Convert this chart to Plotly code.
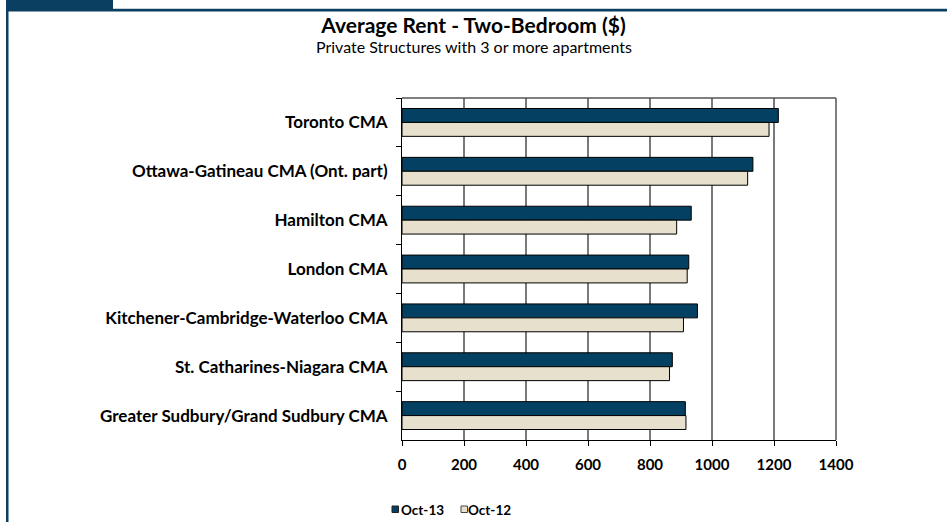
import plotly.graph_objects as go

categories = [
    "Toronto CMA",
    "Ottawa-Gatineau CMA (Ont. part)",
    "Hamilton CMA",
    "London CMA",
    "Kitchener-Cambridge-Waterloo CMA",
    "St. Catharines-Niagara CMA",
    "Greater Sudbury/Grand Sudbury CMA",
]
oct13 = [1214, 1132, 933, 925, 953, 872, 914]
oct12 = [1184, 1115, 886, 920, 908, 863, 916]
series_names = ["Oct-13", "Oct-12"]
x_ticks = [0, 200, 400, 600, 800, 1000, 1200, 1400]

DARK = "#044062"
BEIGE = "#E6E0CC"
FONT = "Lato"

W, H = 947, 522
L, R, T, B = 402, 111, 98, 82
PW, PH = W - L - R, H - T - B

def px(x):
    return (x - L) / PW

def py(y):
    return (H - B - y) / PH

fig = go.Figure()
fig.add_trace(go.Bar(y=categories, x=oct13, name=series_names[0], orientation="h",
                     marker=dict(color=DARK, line=dict(color="#000000", width=1)),
                     showlegend=False))
fig.add_trace(go.Bar(y=categories, x=oct12, name=series_names[1], orientation="h",
                     marker=dict(color=BEIGE, line=dict(color="#000000", width=1)),
                     showlegend=False))

shapes = [
    # top-left dark band
    dict(type="rect", xref="paper", yref="paper", x0=px(6), x1=px(113), y0=py(0), y1=py(10),
         fillcolor="#0B3F62", line=dict(width=0), layer="above"),
    # top horizontal rule
    dict(type="rect", xref="paper", yref="paper", x0=px(6), x1=px(947), y0=py(9), y1=py(11.5),
         fillcolor="#0B3F62", line=dict(width=0), layer="above"),
    dict(type="rect", xref="paper", yref="paper", x0=px(113), x1=px(947), y0=py(8), y1=py(9),
         fillcolor="#C9D3DB", line=dict(width=0), layer="above"),
    # left vertical rule
    dict(type="rect", xref="paper", yref="paper", x0=px(6), x1=px(8.5), y0=py(0), y1=py(522),
         fillcolor="#0B3F62", line=dict(width=0), layer="above"),
    # plot area top and right border
    dict(type="line", xref="paper", yref="paper", x0=0, x1=1, y0=1, y1=1,
         line=dict(color="#555555", width=1.5), layer="above"),
    dict(type="line", xref="paper", yref="paper", x0=1, x1=1, y0=0, y1=1,
         line=dict(color="#555555", width=1.5), layer="above"),
    # legend squares
    dict(type="rect", xref="paper", yref="paper", x0=px(392), x1=px(398.5), y0=py(506), y1=py(512.5),
         fillcolor=DARK, line=dict(color="#222222", width=1), layer="above"),
    dict(type="rect", xref="paper", yref="paper", x0=px(461), x1=px(467.5), y0=py(506), y1=py(512.5),
         fillcolor=BEIGE, line=dict(color="#444444", width=1), layer="above"),
]

annotations = [
    dict(text="Private Structures with 3 or more apartments", xref="paper", yref="paper",
         x=px(473.5), y=py(47), xanchor="center", yanchor="middle", showarrow=False,
         font=dict(family=FONT, size=16, color="#000000")),
    dict(text="<b>" + series_names[0] + "</b>", xref="paper", yref="paper",
         x=px(399), y=py(509.5), xanchor="left", yanchor="middle", showarrow=False,
         font=dict(family=FONT, size=13.5, color="#000000")),
    dict(text="<b>" + series_names[1] + "</b>", xref="paper", yref="paper",
         x=px(466), y=py(509.5), xanchor="left", yanchor="middle", showarrow=False,
         font=dict(family=FONT, size=13.5, color="#000000")),
]

fig.update_layout(
    width=W, height=H,
    margin=dict(l=L, r=R, t=T, b=B, pad=0),
    paper_bgcolor="#FFFFFF", plot_bgcolor="#FFFFFF",
    barmode="group", bargap=0.43, bargroupgap=0,
    title=dict(text="<b>Average Rent - Two-Bedroom ($)</b>", x=0.5, xref="container",
               y=1 - 26 / H, yref="container", xanchor="center", yanchor="middle",
               font=dict(family=FONT, size=21, color="#000000")),
    shapes=shapes, annotations=annotations,
    xaxis=dict(range=[0, 1400], tickvals=x_ticks, ticktext=[str(v) for v in x_ticks],
               showgrid=True, gridcolor="#7A7A7A", gridwidth=1.5,
               showline=True, linecolor="#000000", linewidth=1,
               ticks="outside", ticklen=5, tickcolor="#000000", tickwidth=1,
               ticklabelstandoff=6, zeroline=False,
               tickfont=dict(family=FONT, size=15, color="#000000", weight="bold")),
    yaxis=dict(type="category", autorange="reversed", tickson="boundaries",
               showgrid=False, showline=True, linecolor="#000000", linewidth=1,
               ticks="outside", ticklen=5, tickcolor="#000000", tickwidth=1,
               ticklabelstandoff=10,
               tickfont=dict(family=FONT, size=17, color="#000000", weight="bold")),
    showlegend=False,
)

fig.write_html("out.html", config={"displayModeBar": False},
               post_script="document.body.style.margin='0';")
